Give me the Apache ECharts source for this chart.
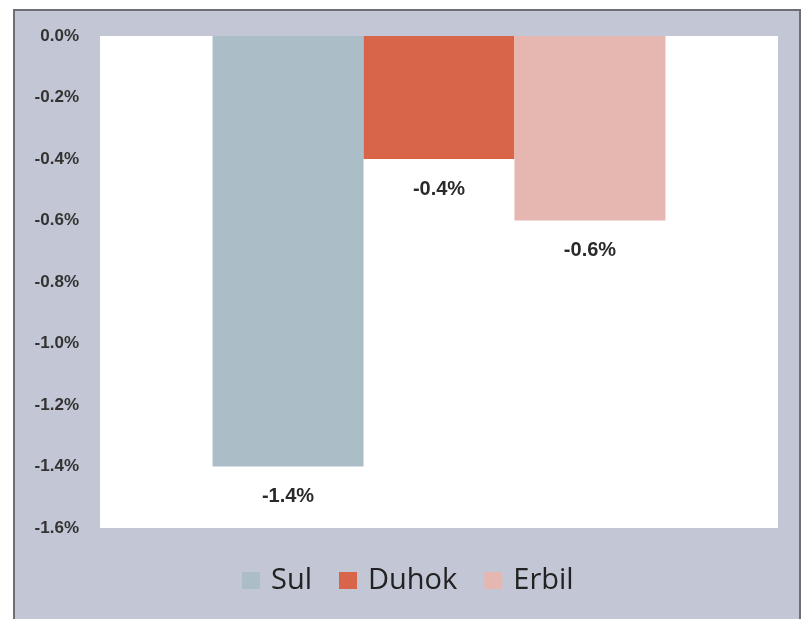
<!DOCTYPE html>
<html>
<head>
<meta charset="utf-8">
<style>
html,body{margin:0;padding:0;background:#fff;}
#chart{width:808px;height:619px;}
</style>
<script src="https://cdn.jsdelivr.net/npm/echarts@6/dist/echarts.min.js"></script>
</head>
<body>
<div id="chart"></div>
<script>
var categories = [''];
var seriesNames = ['Sul', 'Duhok', 'Erbil'];
var sulData = [-1.4];
var duhokData = [-0.4];
var erbilData = [-0.6];
var yTicks = [0, -0.2, -0.4, -0.6, -0.8, -1.0, -1.2, -1.4, -1.6];

var colors = ['#abbdc6', '#d8644a', '#e6b6b1'];
var chart = echarts.init(document.getElementById('chart'));

function mkSeries(name, data, color) {
  return {
    name: name,
    type: 'bar',
    data: data,
    barGap: '0%',
    barCategoryGap: '33.2%',
    itemStyle: { color: color },
    label: {
      show: true,
      position: 'bottom',
      distance: 20,
      fontFamily: 'Liberation Sans',
      fontWeight: 'bold',
      fontSize: 20,
      color: '#2a2a2a',
      formatter: function (p) { return p.value.toFixed(1) + '%'; }
    }
  };
}

chart.setOption({
  animation: false,
  backgroundColor: '#ffffff',
  graphic: [{
    type: 'rect',
    z: -10,
    silent: true,
    shape: { x: 14, y: 10, width: 786, height: 620 },
    style: { fill: '#c3c6d4', stroke: '#6e6e76', lineWidth: 2 }
  }],
  grid: {
    left: 100, right: 30, top: 36, bottom: 91,
    show: true, backgroundColor: '#ffffff', borderWidth: 0
  },
  legend: {
    data: seriesNames,
    left: 237,
    top: 561,
    itemWidth: 18,
    itemHeight: 17,
    itemGap: 27,
    icon: 'rect',
    textStyle: { fontFamily: 'Open Sans', fontSize: 29, color: '#222', padding: [0, 0, 0, 6] }
  },
  xAxis: {
    type: 'category',
    data: categories,
    axisLine: { show: false },
    axisTick: { show: false },
    axisLabel: { show: false }
  },
  yAxis: {
    type: 'value',
    min: -1.6,
    max: 0,
    interval: 0.2,
    splitLine: { show: false },
    axisLine: { show: false },
    axisTick: { show: false },
    axisLabel: {
      margin: 21,
      fontFamily: 'Liberation Sans',
      fontWeight: 'bold',
      fontSize: 17,
      color: '#333',
      formatter: function (v) { return (Math.abs(v) < 1e-9 ? 0 : v).toFixed(1) + '%'; }
    }
  },
  series: [
    mkSeries(seriesNames[0], sulData, colors[0]),
    mkSeries(seriesNames[1], duhokData, colors[1]),
    mkSeries(seriesNames[2], erbilData, colors[2])
  ]
});
</script>
</body>
</html>
